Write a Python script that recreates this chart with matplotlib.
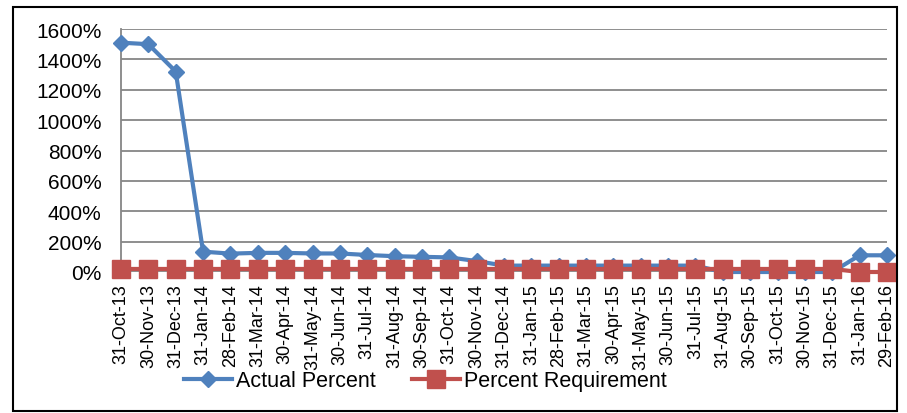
import matplotlib.pyplot as plt
from matplotlib.patches import Rectangle
from matplotlib.ticker import FuncFormatter

plt.rcParams['font.family'] = ['Liberation Sans', 'DejaVu Sans']

# datas de fim de mês
datas = ["31-Oct-13", "30-Nov-13", "31-Dec-13", "31-Jan-14", "28-Feb-14", "31-Mar-14",
         "30-Apr-14", "31-May-14", "30-Jun-14", "31-Jul-14", "31-Aug-14", "30-Sep-14",
         "31-Oct-14", "30-Nov-14", "31-Dec-14", "31-Jan-15", "28-Feb-15", "31-Mar-15",
         "30-Apr-15", "31-May-15", "30-Jun-15", "31-Jul-15", "31-Aug-15", "30-Sep-15",
         "31-Oct-15", "30-Nov-15", "31-Dec-15", "31-Jan-16", "29-Feb-16"]

# valores em %
actual_percent = [1510, 1500, 1320, 134, 121, 126, 126, 122, 122, 112, 104, 100, 96, 72,
                  42, 42, 42, 42, 42, 42, 42, 42, 0, 0, 0, 0, 0, 110, 110]
percent_requirement = [20] * 27 + [0, 0]

y_ticks = list(range(0, 1601, 200))

azul = "#4F81BD"
vermelho = "#C0504D"
cinza = "#868686"

fig = plt.figure(figsize=(9.07, 4.14), dpi=100)
ax = fig.add_axes([121 / 907, 1 - 273 / 414, (887 - 121) / 907, (273 - 30) / 414])

x = list(range(len(datas)))
ax.plot(x, actual_percent, color=azul, linewidth=3, marker="D", markersize=8,
        label="Actual Percent", zorder=3, clip_on=False)
ax.plot(x, percent_requirement, color=vermelho, linewidth=3, marker="s", markersize=12.5,
        label="Percent Requirement", zorder=4, clip_on=False)

ax.set_xlim(0, len(datas) - 1)
ax.set_ylim(0, 1600)
ax.set_yticks(y_ticks)
ax.yaxis.set_major_formatter(FuncFormatter(lambda v, p: f"{int(v)}%"))
ax.set_xticks(x)
ax.set_xticklabels(datas, rotation=90, fontsize=13)
ax.tick_params(axis="y", labelsize=15, length=0, pad=14)
ax.tick_params(axis="x", length=0, pad=8)
ax.grid(axis="y", color=cinza, linewidth=1.3)
ax.set_axisbelow(True)
for lado in ["top", "right", "bottom"]:
    ax.spines[lado].set_visible(False)
ax.spines["left"].set_color(cinza)
ax.spines["left"].set_linewidth(1.3)

fig.legend(loc="center", bbox_to_anchor=(0.469, 1 - 382 / 414), ncol=2, frameon=False,
           fontsize=15.5, handlelength=2.2, handletextpad=0.2, columnspacing=1.7)

# moldura externa
fig.patches.append(Rectangle((13 / 907, 1 - 412 / 414), (897 - 13) / 907, (412 - 8) / 414,
                             transform=fig.transFigure, fill=False, edgecolor="black",
                             linewidth=1.5))

fig.savefig("out.png", dpi=100)
